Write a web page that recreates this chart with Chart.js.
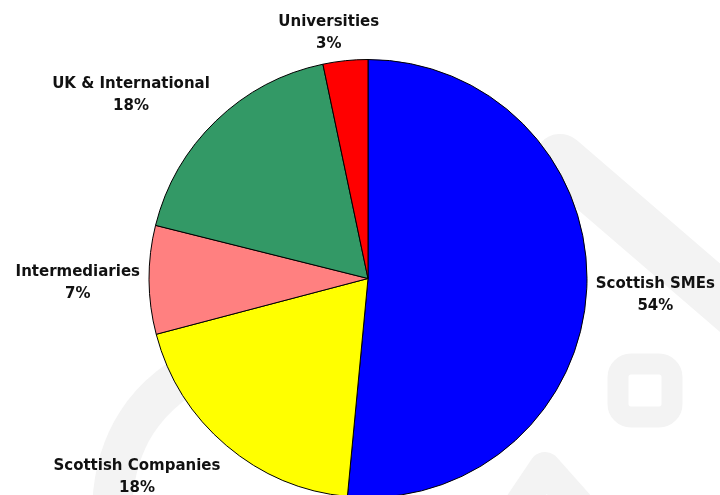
<!DOCTYPE html>
<html>
<head>
<meta charset="utf-8">
<script src="https://cdn.jsdelivr.net/npm/chart.js@4/dist/chart.umd.min.js"></script>
<style>
  html, body { margin: 0; padding: 0; background: #ffffff; overflow: hidden; }
  #wrap { position: absolute; left: 0; top: 0; width: 720px; height: 502px; }
</style>
</head>
<body>
<div id="wrap"><canvas id="c"></canvas></div>
<script>
// Categories (clockwise from 12 o'clock)
const categories = ['Scottish SMEs', 'Scottish Companies', 'Intermediaries', 'UK & International', 'Universities'];
// Slice sizes
const shareValues = [51.5, 19.4, 8.0, 17.8, 3.3];
// Percentage text printed on the chart
const percentLabels = ['54%', '18%', '7%', '18%', '3%'];
const sliceColors = ['#0000FF', '#FFFF00', '#FF8080', '#339966', '#FF0000'];

const watermark = {
  id: 'watermark',
  beforeDraw(chart) {
    const ctx = chart.ctx;
    ctx.save();
    ctx.fillStyle = '#ffffff';
    ctx.fillRect(0, 0, chart.width, chart.height);
    ctx.strokeStyle = '#f3f3f3';
    ctx.lineCap = 'round';
    ctx.lineJoin = 'round';
    // big curved band at lower left
    ctx.lineWidth = 40;
    ctx.beginPath();
    ctx.moveTo(112, 520);
    ctx.quadraticCurveTo(110, 405, 215, 360);
    ctx.stroke();
    // diagonal band at right
    ctx.lineWidth = 52;
    ctx.beginPath();
    ctx.moveTo(560, 160);
    ctx.lineTo(740, 315);
    ctx.stroke();
    // chevron at bottom
    ctx.lineWidth = 32;
    ctx.beginPath();
    ctx.moveTo(510, 520);
    ctx.lineTo(545, 468);
    ctx.lineTo(600, 530);
    ctx.stroke();
    // rounded square ring
    ctx.lineWidth = 21;
    ctx.beginPath();
    ctx.roundRect(618, 364, 54, 53, 13);
    ctx.stroke();
    ctx.restore();
  }
};

const outsideLabels = {
  id: 'outsideLabels',
  afterDatasetsDraw(chart) {
    const ctx = chart.ctx;
    const meta = chart.getDatasetMeta(0);
    ctx.save();
    ctx.font = 'bold 15px "DejaVu Sans", Verdana, sans-serif';
    ctx.fillStyle = '#111111';
    ctx.textAlign = 'center';
    ctx.textBaseline = 'middle';
    const lineH = 22;
    const clamp = v => Math.max(-1, Math.min(1, v));
    meta.data.forEach((arc, i) => {
      const p = arc.getProps(['x', 'y', 'startAngle', 'endAngle', 'outerRadius'], true);
      const mid = (p.startAngle + p.endAngle) / 2;
      const dx = Math.cos(mid), dy = Math.sin(mid);
      const r = p.outerRadius + 9;
      const ax = p.x + dx * r, ay = p.y + dy * r;
      const lines = [categories[i], percentLabels[i]];
      const w = Math.max(...lines.map(t => ctx.measureText(t).width));
      const h = lines.length * lineH;
      const cx = ax + clamp(3 * dx) * w / 2;
      const cy = ay + clamp(3 * dy) * h / 2 + 3;
      lines.forEach((t, k) => {
        ctx.fillText(t, cx, cy - h / 2 + lineH * (k + 0.5));
      });
    });
    ctx.restore();
  }
};

new Chart(document.getElementById('c'), {
  type: 'pie',
  data: {
    labels: categories,
    datasets: [{
      data: shareValues,
      backgroundColor: sliceColors,
      borderColor: '#000000',
      borderWidth: 1
    }]
  },
  options: {
    responsive: true,
    maintainAspectRatio: false,
    animation: false,
    layout: { padding: { top: 59, bottom: 4, left: 16, right: 0 } },
    plugins: {
      legend: { display: false },
      tooltip: { enabled: false }
    }
  },
  plugins: [watermark, outsideLabels]
});
</script>
</body>
</html>
